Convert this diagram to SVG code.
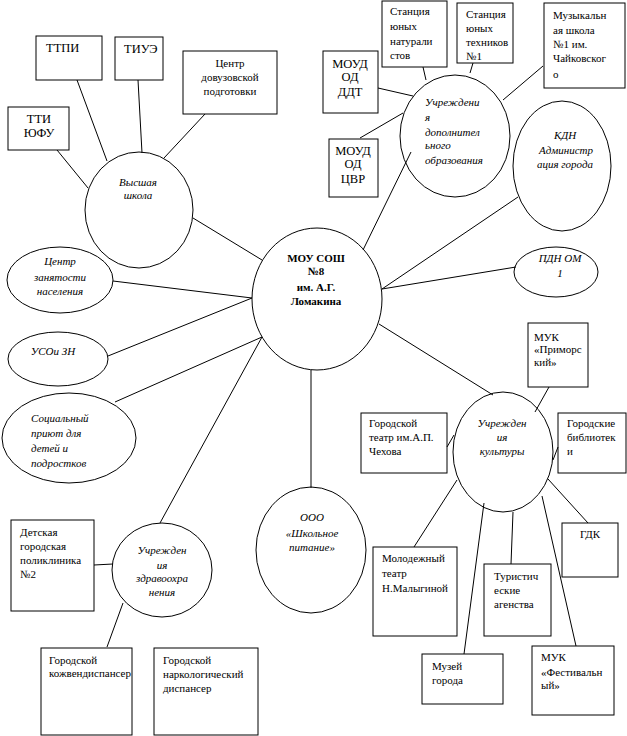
<svg xmlns="http://www.w3.org/2000/svg" width="627" height="736" viewBox="0 0 627 736">
<style>
.sh{fill:none;stroke:#000;stroke-width:1}
.ln{stroke:#000;stroke-width:1;fill:none}
text{font-family:"Liberation Serif",serif;font-size:11px;fill:#000}
.c{text-anchor:middle}
.i{font-style:italic}
.b{font-weight:bold}
.l{font-size:12.5px}
</style>
<rect width="627" height="736" fill="#fff"/>
<g id="connectors">
<line class="ln" x1="193" y1="218" x2="262" y2="260"/>
<line class="ln" x1="57" y1="150" x2="88" y2="188"/>
<line class="ln" x1="77" y1="80" x2="107" y2="161"/>
<line class="ln" x1="138" y1="80" x2="142" y2="153"/>
<line class="ln" x1="205" y1="114" x2="164" y2="158"/>
<line class="ln" x1="363" y1="250" x2="411" y2="152"/>
<line class="ln" x1="423" y1="67" x2="426" y2="80"/>
<line class="ln" x1="473" y1="63" x2="470" y2="73"/>
<line class="ln" x1="543" y1="66" x2="503" y2="100"/>
<line class="ln" x1="378" y1="88" x2="413" y2="96"/>
<line class="ln" x1="360" y1="138" x2="403" y2="113"/>
<line class="ln" x1="518" y1="197" x2="382" y2="289"/>
<line class="ln" x1="516" y1="267" x2="382" y2="289"/>
<line class="ln" x1="113" y1="281" x2="252" y2="298"/>
<line class="ln" x1="108" y1="356" x2="252" y2="298"/>
<line class="ln" x1="115" y1="402" x2="262" y2="337"/>
<line class="ln" x1="160" y1="523" x2="262" y2="337"/>
<line class="ln" x1="311" y1="370" x2="311" y2="488"/>
<line class="ln" x1="94" y1="565" x2="113" y2="564"/>
<line class="ln" x1="123" y1="603" x2="107" y2="647"/>
<line class="ln" x1="379" y1="324" x2="493" y2="395"/>
<line class="ln" x1="549" y1="387" x2="535" y2="412"/>
<line class="ln" x1="447" y1="447" x2="454" y2="435"/>
<line class="ln" x1="558" y1="447" x2="553" y2="460"/>
<line class="ln" x1="414" y1="547" x2="457" y2="480"/>
<line class="ln" x1="464" y1="654" x2="484" y2="503"/>
<line class="ln" x1="511" y1="564" x2="513" y2="512"/>
<line class="ln" x1="588" y1="523" x2="548" y2="479"/>
<line class="ln" x1="576" y1="646" x2="542" y2="496"/>
</g>
<g id="center">
<ellipse class="sh" cx="317" cy="299" rx="65" ry="71"/>
<text class="c b" x="316" y="262">МОУ СОШ</text>
<text class="c b" x="316" y="275">№8</text>
<text class="c b" x="316" y="291">им. А.Г.</text>
<text class="c b" x="316" y="305">Ломакина</text>
</g>
<g id="vysshaya">
<ellipse class="sh" cx="139" cy="210" rx="54" ry="58"/>
<text class="c i" x="138" y="186">Высшая</text>
<text class="c i" x="138" y="199">школа</text>
</g>
<g id="ttpi"><rect class="sh" x="36" y="36" width="66" height="44"/><text class="l" x="46" y="52">ТТПИ</text></g>
<g id="tiue"><rect class="sh" x="115" y="37" width="48" height="43"/><text class="l" x="124" y="53">ТИУЭ</text></g>
<g id="tti"><rect class="sh" x="8" y="107" width="61" height="43"/><text class="c l" x="39" y="123">ТТИ</text><text class="c l" x="39" y="137">ЮФУ</text></g>
<g id="dovuz"><rect class="sh" x="183" y="51" width="94" height="63"/>
<text class="c" x="230" y="67">Центр</text><text class="c" x="230" y="81">довузовской</text><text class="c" x="230" y="95">подготовки</text></g>
<g id="dop">
<ellipse class="sh" cx="455" cy="136" rx="55" ry="61"/>
<text class="i" x="425" y="106">Учреждени</text>
<text class="i" x="425" y="121">я</text>
<text class="i" x="425" y="136">дополнител</text>
<text class="i" x="425" y="149">ьного</text>
<text class="i" x="425" y="164">образования</text>
</g>
<g id="naturalist"><rect class="sh" x="382" y="1" width="65" height="66"/>
<text x="390" y="15">Станция</text><text x="390" y="30">юных</text><text x="390" y="45">натурали</text><text x="390" y="59">стов</text></g>
<g id="tehnik"><rect class="sh" x="457" y="3" width="56" height="60"/>
<text x="466" y="18">Станция</text><text x="466" y="32">юных</text><text x="466" y="46">техников</text><text x="466" y="60">№1</text></g>
<g id="muz"><rect class="sh" x="544" y="3" width="81" height="85"/>
<text x="553" y="19">Музыкальн</text><text x="553" y="34">ая школа</text><text x="553" y="48">№1 им.</text><text x="553" y="62">Чайковског</text><text x="553" y="78">о</text></g>
<g id="ddt"><rect class="sh" x="323" y="51" width="55" height="62"/>
<text class="c l" x="350" y="68">МОУД</text><text class="c l" x="350" y="81">ОД</text><text class="c l" x="350" y="96">ДДТ</text></g>
<g id="cvr"><rect class="sh" x="329" y="139" width="49" height="58"/>
<text class="c l" x="353" y="155">МОУД</text><text class="c l" x="353" y="168">ОД</text><text class="c l" x="353" y="183">ЦВР</text></g>
<g id="kdn">
<ellipse class="sh" cx="562" cy="166" rx="49" ry="65"/>
<text class="c i" x="565" y="139">КДН</text>
<text class="c i" x="566" y="154">Администр</text>
<text class="c i" x="565" y="168">ация города</text>
</g>
<g id="pdn">
<ellipse class="sh" cx="556" cy="272" rx="42" ry="25"/>
<text class="c i" x="560" y="262">ПДН ОМ</text>
<text class="c i" x="560" y="277">1</text>
</g>
<g id="zanyatost">
<ellipse class="sh" cx="60" cy="280" rx="53" ry="33"/>
<text class="c i" x="60" y="265">Центр</text>
<text class="c i" x="60" y="281">занятости</text>
<text class="c i" x="60" y="295">населения</text>
</g>
<g id="uso">
<ellipse class="sh" cx="58" cy="359" rx="50" ry="27"/>
<text class="c i" x="53" y="355">УСОи ЗН</text>
</g>
<g id="priyut">
<ellipse class="sh" cx="69" cy="438" rx="67" ry="45"/>
<text class="i" x="31" y="422">Социальный</text>
<text class="i" x="31" y="437">приют для</text>
<text class="i" x="31" y="452">детей и</text>
<text class="i" x="31" y="467">подростков</text>
</g>
<g id="pitanie">
<ellipse class="sh" cx="311" cy="550" rx="55" ry="63"/>
<text class="c i" x="312" y="521">ООО</text>
<text class="c i" x="312" y="537">«Школьное</text>
<text class="c i" x="312" y="551">питание»</text>
</g>
<g id="zdrav">
<ellipse class="sh" cx="162" cy="570" rx="50" ry="47"/>
<text class="c i" x="162" y="554">Учрежден</text>
<text class="c i" x="162" y="569">ия</text>
<text class="c i" x="162" y="582">здравоохра</text>
<text class="c i" x="162" y="596">нения</text>
</g>
<g id="poliklinika"><rect class="sh" x="11" y="520" width="83" height="91"/>
<text x="20" y="536">Детская</text><text x="20" y="550">городская</text><text x="20" y="564">поликлиника</text><text x="20" y="578">№2</text></g>
<g id="kozhven"><rect class="sh" x="41" y="648" width="91" height="87"/>
<text x="49" y="664">Городской</text><text x="49" y="677">кожвендиспансер</text></g>
<g id="narko"><rect class="sh" x="154" y="648" width="104" height="87"/>
<text x="163" y="664">Городской</text><text x="163" y="678">наркологический</text><text x="163" y="692">диспансер</text></g>
<g id="kultura">
<ellipse class="sh" cx="503" cy="452" rx="50" ry="60"/>
<text class="c i" x="502" y="427">Учрежден</text>
<text class="c i" x="502" y="441">ия</text>
<text class="c i" x="502" y="455">культуры</text>
</g>
<g id="primorsky"><rect class="sh" x="528" y="323" width="60" height="64"/>
<text x="534" y="341">МУК</text><text x="534" y="353">«Приморс</text><text x="534" y="366">кий»</text></g>
<g id="chehov"><rect class="sh" x="361" y="413" width="86" height="60"/>
<text x="369" y="427">Городской</text><text x="369" y="441">театр им.А.П.</text><text x="369" y="455">Чехова</text></g>
<g id="biblio"><rect class="sh" x="558" y="413" width="68" height="60"/>
<text x="567" y="427">Городские</text><text x="567" y="441">библиотек</text><text x="567" y="455">и</text></g>
<g id="molodezh"><rect class="sh" x="373" y="547" width="84" height="89"/>
<text x="382" y="562">Молодежный</text><text x="382" y="577">театр</text><text x="382" y="592">Н.Малыгиной</text></g>
<g id="muzei"><rect class="sh" x="422" y="654" width="81" height="50"/>
<text x="432" y="670">Музей</text><text x="432" y="684">города</text></g>
<g id="turist"><rect class="sh" x="484" y="564" width="67" height="72"/>
<text x="494" y="580">Туристич</text><text x="494" y="594">еские</text><text x="494" y="608">агенства</text></g>
<g id="gdk"><rect class="sh" x="562" y="523" width="56" height="54"/>
<text class="c" x="590" y="538">ГДК</text></g>
<g id="festival"><rect class="sh" x="532" y="646" width="82" height="69"/>
<text x="541" y="661">МУК</text><text x="541" y="676">«Фестивальн</text><text x="541" y="689">ый»</text></g>
</svg>
